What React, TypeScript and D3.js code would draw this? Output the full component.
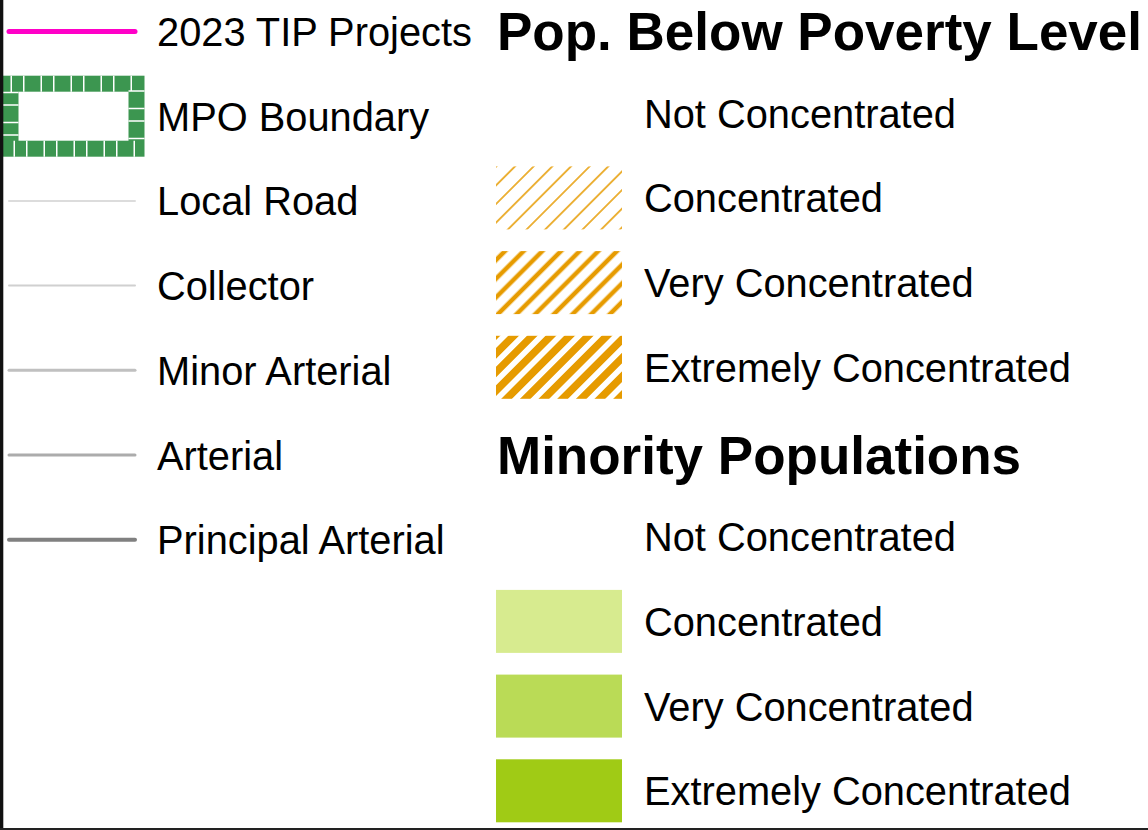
import React, { useEffect, useRef } from "react";
import * as d3 from "d3";

const WIDTH = 1148;
const HEIGHT = 830;
const FONT = "'Liberation Sans', Arial, Helvetica, sans-serif";

// left column: network layers
const LINE_LABELS = [
  "2023 TIP Projects",
  "MPO Boundary",
  "Local Road",
  "Collector",
  "Minor Arterial",
  "Arterial",
  "Principal Arterial",
];
const LINE_KINDS = ["line", "boundary", "line", "line", "line", "line", "line"];
const LINE_COLORS = ["#ff00c8", "#3c9650", "#dcdcdc", "#d0d0d0", "#c0c0c0", "#acacac", "#808080"];
const LINE_WIDTHS = [5, 16, 2, 2, 3, 3, 4];

// right column: Pop. Below Poverty Level
const POVERTY_TITLE = "Pop. Below Poverty Level";
const POVERTY_LABELS = ["Not Concentrated", "Concentrated", "Very Concentrated", "Extremely Concentrated"];
const POVERTY_HATCH = [0, 1.5, 4.5, 7.5];

// right column: Minority Populations
const MINORITY_TITLE = "Minority Populations";
const MINORITY_LABELS = ["Not Concentrated", "Concentrated", "Very Concentrated", "Extremely Concentrated"];
const MINORITY_COLORS = ["none", "#d7eb8f", "#badb56", "#a0cb15"];

const HATCH_COLOR = "#e69b00";
const LABEL_SIZE = 39.8;
const TITLE_SIZE = 53;

export default function App() {
  const svgRef = useRef<SVGSVGElement>(null);

  useEffect(() => {
    const svg = d3.select(svgRef.current);
    svg.selectAll("*").remove();

    // row index -> text baseline
    const rowY = d3.scaleLinear().domain([0, 1]).range([43, 127.7]);
    const swatchOff = -14.5;
    const defs = svg.append("defs");

    // ── Hatch patterns ──────────────────────────────────────
    POVERTY_HATCH.forEach((w, i) => {
      if (!w) return;
      const p = defs
        .append("pattern")
        .attr("id", `hatch${i}`)
        .attr("patternUnits", "userSpaceOnUse")
        .attr("width", 13.2)
        .attr("height", 13.2)
        .attr("patternTransform", "rotate(45)");
      p.append("line")
        .attr("x1", 6.6)
        .attr("x2", 6.6)
        .attr("y1", -2)
        .attr("y2", 16)
        .attr("stroke", HATCH_COLOR)
        .attr("stroke-width", w);
    });

    svg.append("rect").attr("width", WIDTH).attr("height", HEIGHT).attr("fill", "#fff");

    // ── Left column ─────────────────────────────────────────
    const left = svg.append("g");
    LINE_LABELS.forEach((lab, i) => {
      const base = rowY(i) + 3;
      const cy = base + swatchOff;
      if (LINE_KINDS[i] === "boundary") {
        const r = { x: 10.5, y: cy - 32.5, w: 126, h: 65 };
        left
          .append("rect")
          .attr("x", r.x)
          .attr("y", r.y)
          .attr("width", r.w)
          .attr("height", r.h)
          .attr("fill", "none")
          .attr("stroke", LINE_COLORS[i])
          .attr("stroke-width", LINE_WIDTHS[i]);
        left
          .append("rect")
          .attr("x", r.x)
          .attr("y", r.y)
          .attr("width", r.w)
          .attr("height", r.h)
          .attr("fill", "none")
          .attr("stroke", "#fff")
          .attr("stroke-width", LINE_WIDTHS[i])
          .attr("stroke-dasharray", "1.5,11,1.5,16");
      } else {
        left
          .append("line")
          .attr("x1", 9)
          .attr("x2", 135)
          .attr("y1", cy)
          .attr("y2", cy)
          .attr("stroke", LINE_COLORS[i])
          .attr("stroke-width", LINE_WIDTHS[i])
          .attr("stroke-linecap", "round");
      }
      left
        .append("text")
        .attr("x", 157)
        .attr("y", base)
        .attr("font-size", LABEL_SIZE)
        .attr("fill", "#000")
        .text(lab);
    });

    // ── Right column ────────────────────────────────────────
    const right = svg.append("g");
    const heading = (txt: string, row: number) =>
      right
        .append("text")
        .attr("x", 497)
        .attr("y", rowY(row) + 7)
        .attr("font-size", TITLE_SIZE)
        .attr("font-weight", 700)
        .attr("fill", "#000")
        .text(txt);

    heading(POVERTY_TITLE, 0);
    POVERTY_LABELS.forEach((lab, i) => {
      const base = rowY(i + 1);
      if (POVERTY_HATCH[i]) {
        right
          .append("rect")
          .attr("x", 496)
          .attr("y", base + swatchOff - 31.5)
          .attr("width", 126)
          .attr("height", 63)
          .attr("fill", `url(#hatch${i})`);
      }
      right.append("text").attr("x", 644).attr("y", base).attr("font-size", LABEL_SIZE).text(lab);
    });

    heading(MINORITY_TITLE, 5);
    MINORITY_LABELS.forEach((lab, i) => {
      const base = rowY(i + 6);
      if (MINORITY_COLORS[i] !== "none") {
        right
          .append("rect")
          .attr("x", 496)
          .attr("y", base + swatchOff - 31.5)
          .attr("width", 126)
          .attr("height", 63)
          .attr("fill", MINORITY_COLORS[i]);
      }
      right.append("text").attr("x", 644).attr("y", base).attr("font-size", LABEL_SIZE).text(lab);
    });

    // ── Frame edges ─────────────────────────────────────────
    svg.append("rect").attr("x", 0).attr("y", 0).attr("width", 3.3).attr("height", HEIGHT).attr("fill", "#111");
    svg.append("rect").attr("x", 0).attr("y", 828).attr("width", WIDTH).attr("height", 2).attr("fill", "#222");
  }, []);

  return (
    <div style={{ position: "fixed", left: 0, top: 0 }}>
      <svg
        ref={svgRef}
        width={WIDTH}
        height={HEIGHT}
        style={{ display: "block", fontFamily: FONT }}
      />
    </div>
  );
}
